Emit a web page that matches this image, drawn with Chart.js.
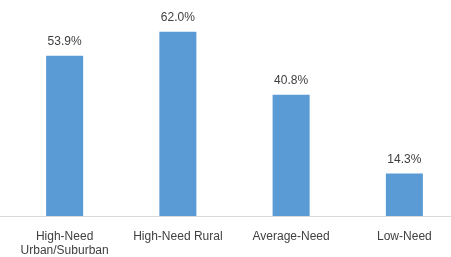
<!DOCTYPE html>
<html><head><meta charset="utf-8">
<script src="https://cdn.jsdelivr.net/npm/chart.js@4/dist/chart.umd.min.js"></script>
<style>html,body{margin:0;padding:0;background:#fff;overflow:hidden;}#wrap{width:451px;height:257px;position:relative;overflow:hidden;}</style>
</head><body><div id="wrap"><canvas id="c" width="462" height="257"></canvas></div>
<script>
const categories = [["High-Need","Urban/Suburban"], "High-Need Rural", "Average-Need", "Low-Need"];
const values = [53.9, 62.0, 40.8, 14.3];
const valueLabels = ["53.9%", "62.0%", "40.8%", "14.3%"];

const labelPlugin = {
  id: 'vlabels',
  beforeDatasetsDraw(chart) {
    const ctx = chart.ctx;
    const y = Math.round(chart.scales.x.top) + 0.5;
    ctx.save();
    ctx.strokeStyle = '#D9D9D9';
    ctx.lineWidth = 1;
    ctx.beginPath();
    ctx.moveTo(0, y);
    ctx.lineTo(chart.width, y);
    ctx.stroke();
    ctx.restore();
  },
  afterDatasetsDraw(chart) {
    const ctx = chart.ctx;
    const meta = chart.getDatasetMeta(0);
    ctx.save();
    ctx.font = '12px "Liberation Sans", Arial, sans-serif';
    ctx.fillStyle = '#404040';
    ctx.textAlign = 'center';
    ctx.textBaseline = 'bottom';
    meta.data.forEach((bar, i) => {
      ctx.fillText(valueLabels[i], bar.x, bar.y - 8);
    });
    ctx.restore();
  }
};

new Chart(document.getElementById('c'), {
  type: 'bar',
  data: { labels: categories, datasets: [{ data: values, backgroundColor: '#5B9BD5', categoryPercentage: 1, barPercentage: 0.327 }] },
  options: {
    responsive: false, animation: false,
    layout: { padding: { left: 8, right: 1, top: 8, bottom: 0 } },
    plugins: { legend: { display: false }, tooltip: { enabled: false } },
    scales: {
      x: {
        afterFit(scale) { scale.height = 41; },
        grid: { display: false, drawTicks: false },
        border: { display: false },
        ticks: { color: '#404040', font: { family: '"Liberation Sans", Arial, sans-serif', size: 12 }, padding: 13, maxRotation: 0, autoSkip: false }
      },
      y: { display: false, min: 0, max: 70 }
    }
  },
  plugins: [labelPlugin]
});
</script></body></html>
